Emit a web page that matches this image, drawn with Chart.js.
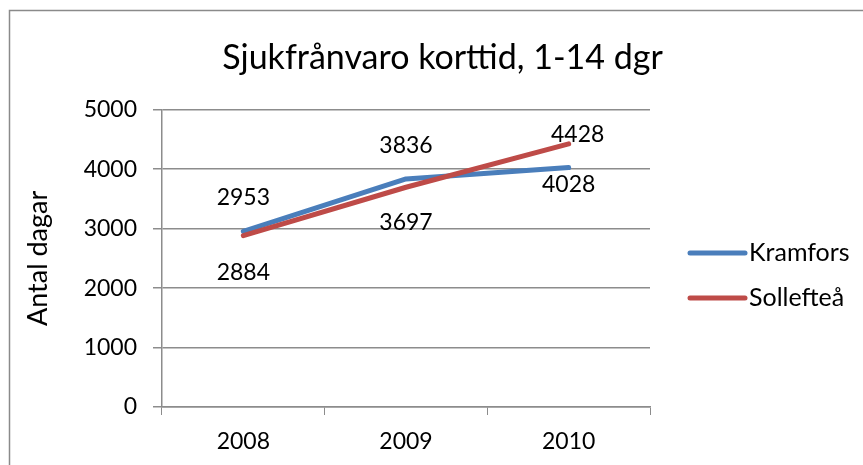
<!DOCTYPE html>
<html>
<head>
  <meta charset="utf-8">
  <title>Sjukfrånvaro korttid</title>
  <script src="https://cdn.jsdelivr.net/npm/chart.js@4.4.1/dist/chart.umd.min.js"></script>
  <style>
    body { margin: 0; background: #fff; }
  </style>
</head>
<body>

  <canvas id="chart" width="863" height="465"></canvas>

  <script>
    // data
    var years = ['2008', '2009', '2010'];
    var kramfors = [2953, 3836, 4028];
    var solleftea = [2884, 3697, 4428];
    var seriesNames = ['Kramfors', 'Sollefteå'];
    var yTicks = [0, 1000, 2000, 3000, 4000, 5000];

    // where each value label sits relative to its point (dx, dy)
    var labelOffsets = [
        [[0, -34], [0, -33], [0, 17]],
        [[0, 37], [0, 35], [9, -9]]
    ];

    var FONT = 'Lato';
    var gray = '#8c8c8c';

    // outer frame (only top and left edge are visible in the crop)
    var framePlugin = {
        id: 'frame',
        beforeDraw: function (chart) {
            var c = chart.ctx;
            c.save();
            c.strokeStyle = '#8a8a8a';
            c.lineWidth = 1.5;
            c.beginPath();
            c.moveTo(9.5, 465);
            c.lineTo(9.5, 10.5);
            c.lineTo(863, 10.5);
            c.stroke();
            c.restore();
        }
    };

    // value labels next to the points
    var valueLabels = {
        id: 'valueLabels',
        afterDatasetsDraw: function (chart) {
            var c = chart.ctx;
            c.save();
            c.font = '23px ' + FONT;
            c.fillStyle = '#000';
            c.textAlign = 'center';
            c.textBaseline = 'middle';
            chart.data.datasets.forEach(function (ds, i) {
                var meta = chart.getDatasetMeta(i);
                meta.data.forEach(function (pt, j) {
                    var off = labelOffsets[i][j];
                    c.fillText(String(ds.data[j]), pt.x + off[0], pt.y + off[1]);
                });
            });
            c.restore();
        }
    };

    // legend on the right, line sample + name
    var sideLegend = {
        id: 'sideLegend',
        afterDraw: function (chart) {
            var c = chart.ctx;
            c.save();
            c.font = '25px ' + FONT;
            c.textBaseline = 'middle';
            c.textAlign = 'left';
            chart.data.datasets.forEach(function (ds, i) {
                var y = 253 + i * 45;
                c.strokeStyle = ds.borderColor;
                c.lineWidth = 5;
                c.lineCap = 'round';
                c.beginPath();
                c.moveTo(690, y);
                c.lineTo(745, y);
                c.stroke();
                c.fillStyle = '#000';
                c.fillText(ds.label, 749, y);
            });
            c.restore();
        }
    };

    var ctx = document.getElementById('chart').getContext('2d');

    var chart = new Chart(ctx, {
        type: 'line',
        data: {
            labels: years,
            datasets: [
                {
                    label: seriesNames[0],
                    data: kramfors,
                    borderColor: '#4A7EBB',
                    borderWidth: 5,
                    order: 1
                },
                {
                    label: seriesNames[1],
                    data: solleftea,
                    borderColor: '#BE4B48',
                    borderWidth: 5,
                    order: 0
                }
            ]
        },
        plugins: [framePlugin, valueLabels, sideLegend],
        options: {
            responsive: false,
            animation: false,
            events: [],
            elements: {
                point: { radius: 0 },
                line: { tension: 0, fill: false, borderCapStyle: 'round', borderJoinStyle: 'round' }
            },
            layout: { padding: { left: 22, right: 0, top: 0, bottom: 0 } },
            plugins: {
                legend: { display: false },
                tooltip: { enabled: false },
                title: {
                    display: true,
                    text: 'Sjukfrånvaro korttid, 1-14 dgr',
                    color: '#000',
                    font: { family: FONT, size: 34, weight: 'normal', lineHeight: 1.2 },
                    padding: { top: 38, bottom: 31 }
                }
            },
            scales: {
                x: {
                    offset: true,
                    grid: {
                        offset: true,
                        drawOnChartArea: false,
                        color: gray,
                        tickLength: 8,
                        tickColor: gray
                    },
                    border: { color: gray, width: 1.5 },
                    ticks: {
                        color: '#000',
                        font: { family: FONT, size: 23 },
                        padding: 13,
                        maxRotation: 0
                    },
                    afterFit: function (scale) { scale.height = 58; }
                },
                y: {
                    min: 0,
                    max: 5000,
                    afterBuildTicks: function (scale) {
                        scale.ticks = yTicks.map(function (v) { return { value: v }; });
                    },
                    grid: {
                        color: gray,
                        lineWidth: 1.5,
                        tickLength: 9,
                        tickColor: gray
                    },
                    border: { color: gray, width: 1.5 },
                    ticks: {
                        color: '#000',
                        font: { family: FONT, size: 23 },
                        padding: 16,
                        callback: function (v) { return String(v); }
                    },
                    title: {
                        display: true,
                        text: 'Antal dagar',
                        color: '#000',
                        font: { family: FONT, size: 27 },
                        padding: { top: 0, bottom: 0 }
                    },
                    afterFit: function (scale) { scale.width = 140; }
                },
                // empty right-hand box that keeps room for the legend
                side: {
                    type: 'linear',
                    position: 'right',
                    grid: { display: false },
                    border: { display: false },
                    ticks: { display: false },
                    afterFit: function (scale) { scale.width = 213; }
                }
            }
        }
    });
  </script>

</body>
</html>
